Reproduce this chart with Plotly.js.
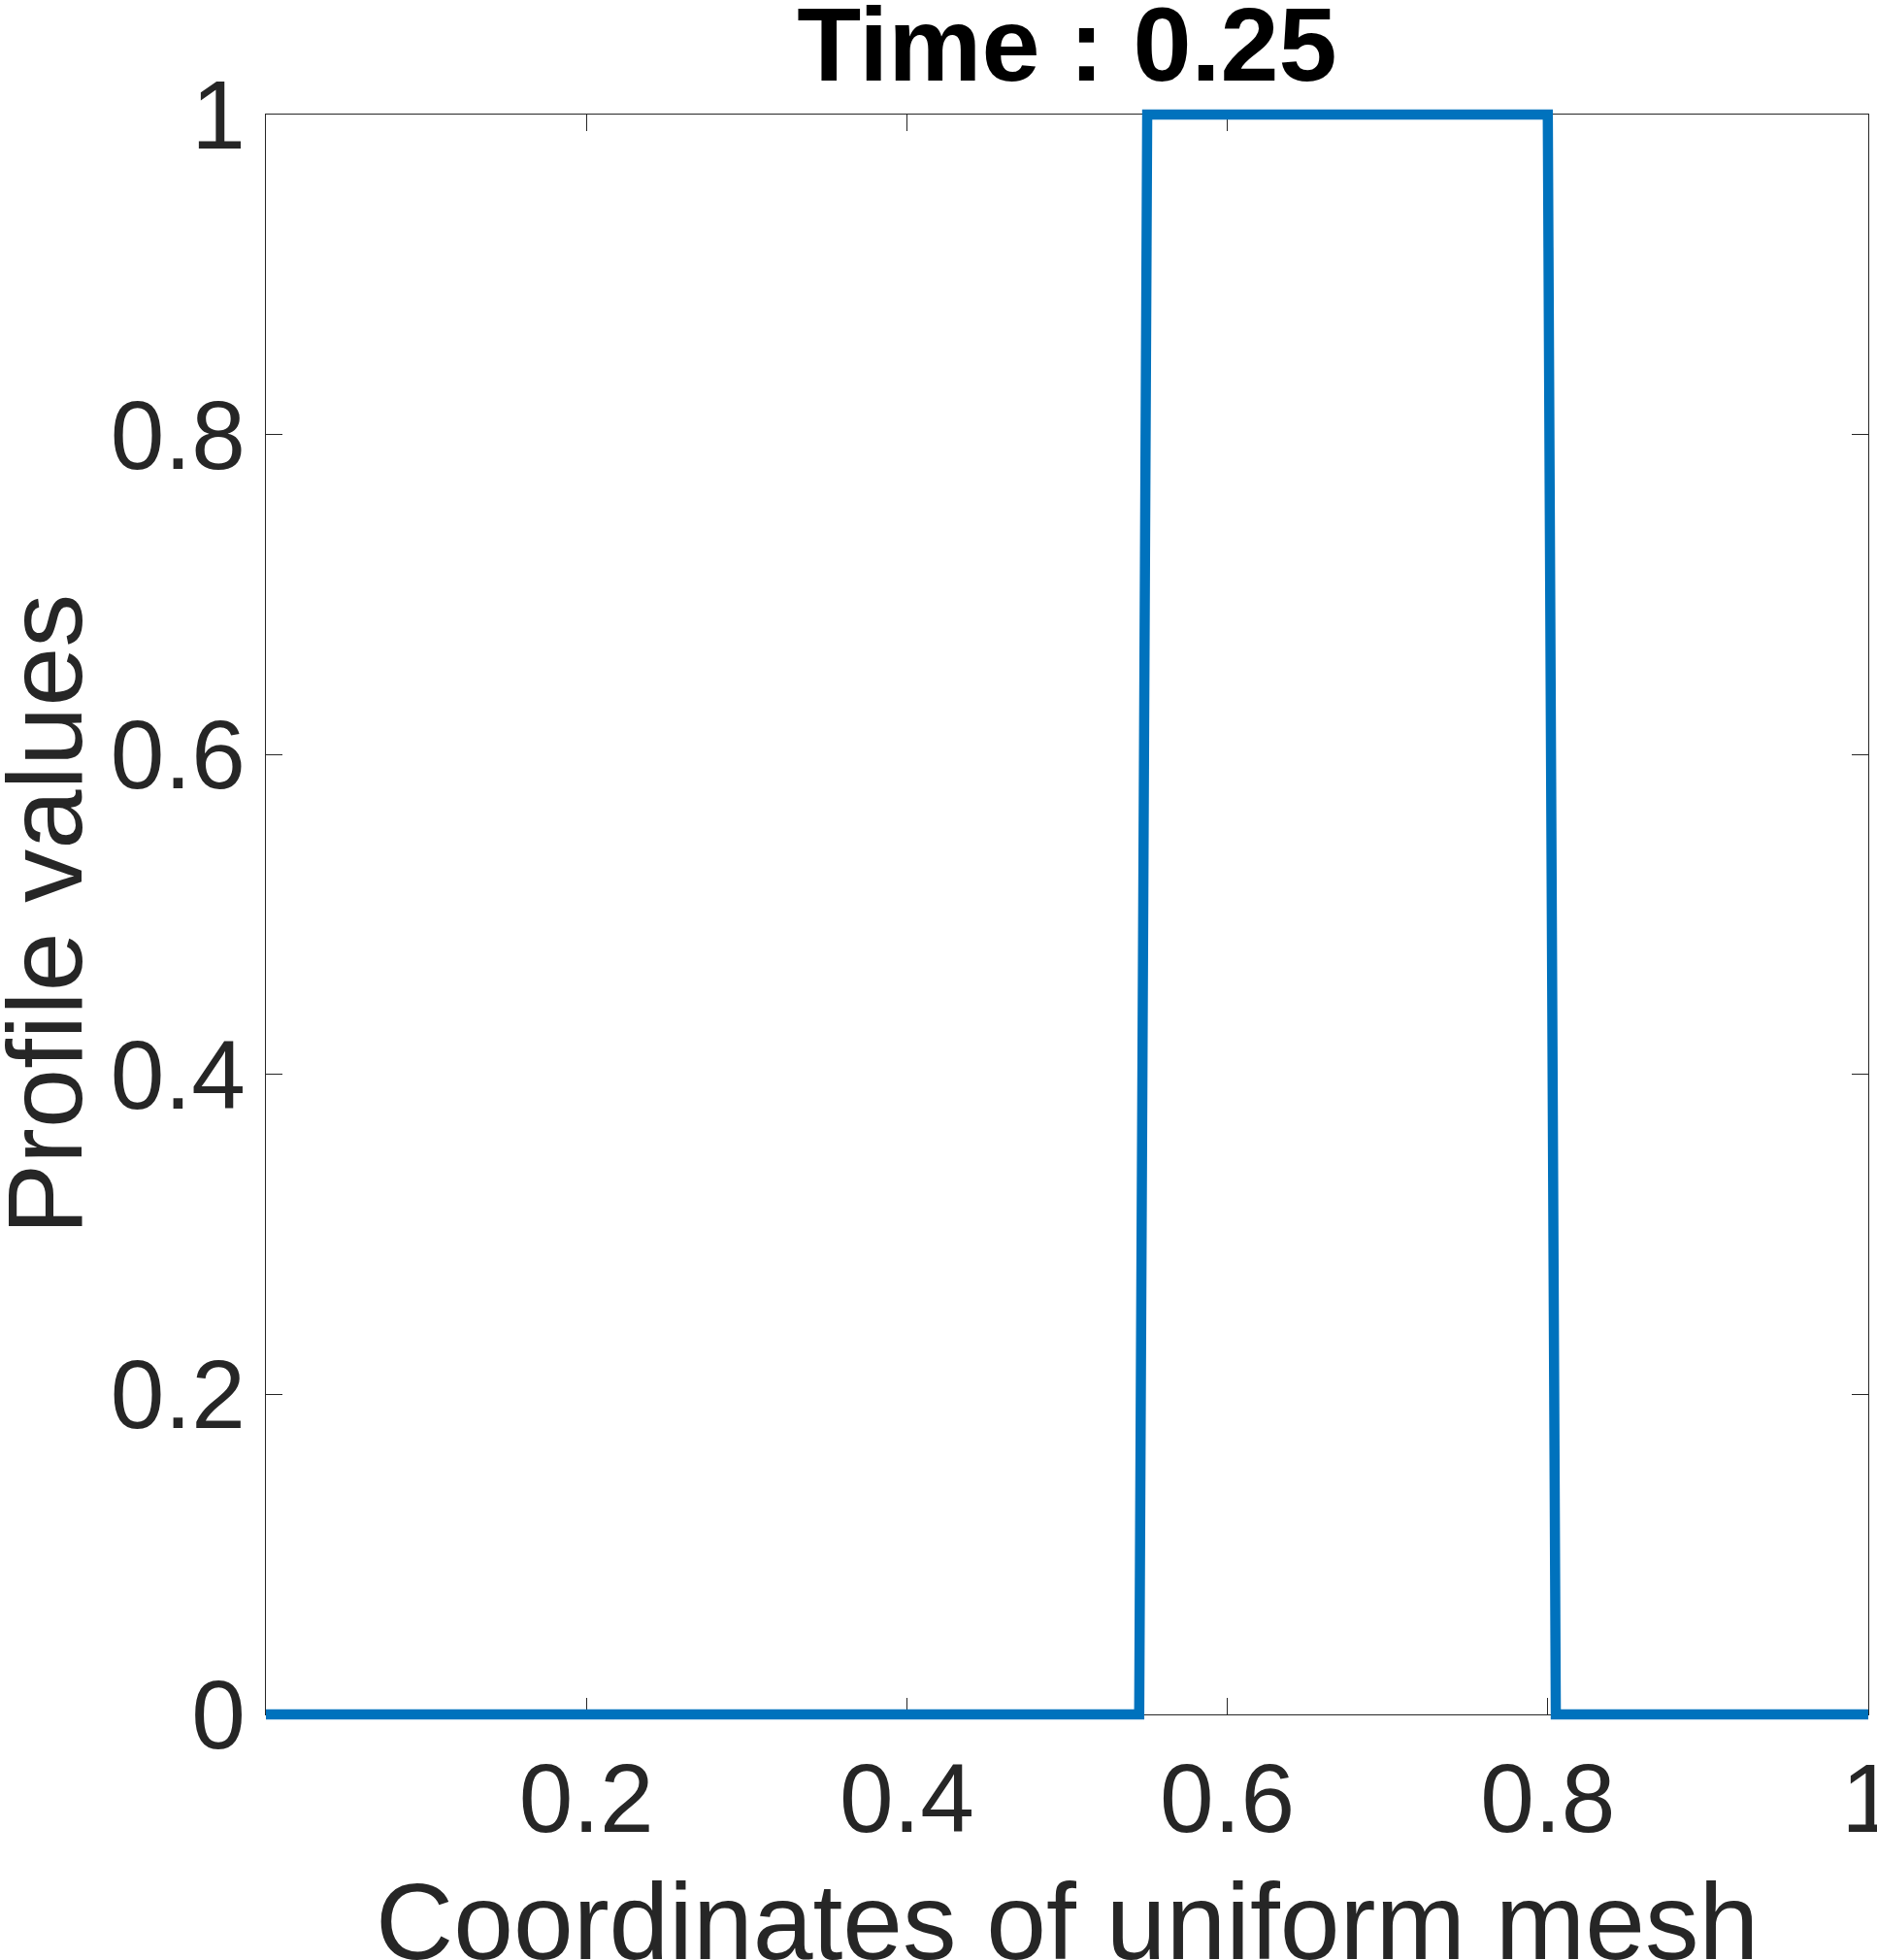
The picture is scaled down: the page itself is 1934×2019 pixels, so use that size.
<!DOCTYPE html>
<html>
<head>
<meta charset="utf-8">
<script src="https://cdn.plot.ly/plotly-3.0.1.min.js"></script>
<style>html,body{margin:0;padding:0;background:#fff;}#chart{width:1934px;height:2019px;}</style>
</head>
<body>
<div id="chart"></div>
<script>
// Data
var meshX = [0, 0.545, 0.55, 0.8, 0.805, 1];
var profileY = [0, 0, 1, 1, 0, 0];
var xTickVals = [0.2, 0.4, 0.6, 0.8, 1];
var xTickText = ['0.2', '0.4', '0.6', '0.8', '1'];
var yTickVals = [0, 0.2, 0.4, 0.6, 0.8, 1];
var yTickText = ['0', '0.2', '0.4', '0.6', '0.8', '1'];
var titleText = 'Time : 0.25';
var xTitle = 'Coordinates of uniform mesh';
var yTitle = 'Profile values';

var W = 1934, H = 2019;
var mT = 110, mB = 245, mL = 274, mR = 9;
var pad = 8;                       // extra px so the thick line is not clipped
var paperH = H - mT - mB;          // 1664
var paperW = W - mL - mR;          // 1651
var innerH = paperH - 2 * pad;     // 1648
var padFrac = pad / paperH;
var padVal = pad / innerH;

var axColor = '#262626';
var font = 'Liberation Sans, Arial, Helvetica, sans-serif';

// invisible trace so the framed axes (x / y) subplot is drawn
var frameTrace = {
  x: meshX, y: profileY,
  xaxis: 'x', yaxis: 'y',
  type: 'scatter', mode: 'lines',
  line: {color: 'rgba(0,0,0,0)', width: 0},
  hoverinfo: 'skip', showlegend: false
};

var trace = {
  x: meshX, y: profileY,
  xaxis: 'x2', yaxis: 'y2',
  type: 'scatter', mode: 'lines',
  line: {color: '#0072BD', width: 10.5},
  hoverinfo: 'skip', showlegend: false
};

var layout = {
  width: W, height: H,
  margin: {l: mL, r: mR, t: mT, b: mB, pad: 0},
  paper_bgcolor: '#ffffff', plot_bgcolor: 'rgba(0,0,0,0)',
  showlegend: false,
  font: {family: font, color: axColor},
  title: {
    text: titleText,
    font: {family: font, size: 108, color: '#000000', weight: 'bold'},
    x: 0.5, xref: 'paper', xanchor: 'center',
    y: 1 - 83 / H, yref: 'container', yanchor: 'bottom'
  },
  xaxis: {
    domain: [0, 1], range: [0, 1], anchor: 'y',
    tickmode: 'array', tickvals: xTickVals, ticktext: xTickText,
    ticks: 'inside', ticklen: 17, tickwidth: 1.2, tickcolor: axColor,
    showline: true, linecolor: axColor, linewidth: 1.2, mirror: 'ticks',
    showgrid: false, zeroline: false, ticklabeloverflow: 'allow',
    tickfont: {family: font, size: 100, color: axColor},
    layer: 'below traces', fixedrange: true
  },
  yaxis: {
    domain: [padFrac, 1 - padFrac], range: [0, 1], anchor: 'x',
    tickmode: 'array', tickvals: yTickVals, ticktext: yTickText,
    ticks: 'inside', ticklen: 17, tickwidth: 1.2, tickcolor: axColor,
    showline: true, linecolor: axColor, linewidth: 1.2, mirror: 'ticks',
    showgrid: false, zeroline: false, ticklabeloverflow: 'allow',
    tickfont: {family: font, size: 100, color: axColor},
    layer: 'below traces', fixedrange: true
  },
  xaxis2: {
    domain: [0, 1], range: [0, 1], anchor: 'y2',
    showline: false, showgrid: false, zeroline: false, ticks: '', showticklabels: false, fixedrange: true
  },
  yaxis2: {
    domain: [0, 1], range: [-padVal, 1 + padVal], anchor: 'x2',
    showline: false, showgrid: false, zeroline: false, ticks: '', showticklabels: false, fixedrange: true
  },
  annotations: [
    { // x axis title
      text: xTitle, showarrow: false,
      xref: 'paper', yref: 'paper', x: 0.5, xanchor: 'center',
      y: -(1916 - (H - mB)) / paperH, yanchor: 'top',
      font: {family: font, size: 111, color: axColor}
    },
    { // y axis title
      text: yTitle, showarrow: false, textangle: -90,
      xref: 'paper', yref: 'paper', x: (45 - mL) / paperW, xanchor: 'center',
      y: 0.5, yanchor: 'middle',
      font: {family: font, size: 110, color: axColor}
    }
  ]
};

Plotly.newPlot('chart', [frameTrace, trace], layout, {displayModeBar: false, staticPlot: true});
</script>
</body>
</html>
